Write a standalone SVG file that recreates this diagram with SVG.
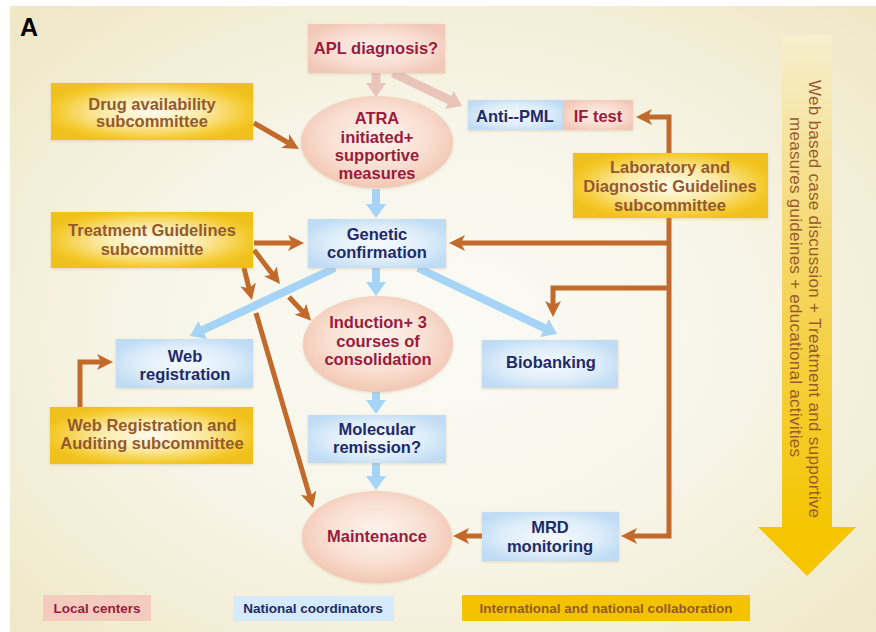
<svg xmlns="http://www.w3.org/2000/svg" width="876" height="632" viewBox="0 0 876 632">
<defs>
<style>
.t{font-family:"Liberation Sans",Arial,Helvetica,sans-serif;font-weight:bold;font-size:16.5px;text-anchor:middle}
.lg{font-family:"Liberation Sans",Arial,Helvetica,sans-serif;font-weight:bold;font-size:13.5px;text-anchor:middle}
.vt{font-family:"Liberation Sans",Arial,Helvetica,sans-serif;font-size:17px;fill:#9a5a2c}
.brn{fill:#94592f}
.nav{fill:#1f2a6a}
.red{fill:#9a1c3c}
.yb{fill:url(#yG);filter:url(#sh)}
.bb{fill:url(#bG);filter:url(#sh)}
.pb{fill:url(#pG);filter:url(#sh)}
.el{fill:url(#eG);filter:url(#sh)}
.cb{stroke:#c26a2c;stroke-width:5;fill:none;marker-end:url(#ab)}
.cl{stroke:#a6d4f6;stroke-width:8;fill:none;marker-end:url(#al)}
.cp{stroke:#e8c5b8;stroke-width:9;fill:none;marker-end:url(#ap)}
</style>
<radialGradient id="bgG" cx="0.5" cy="0.52" r="0.7">
<stop offset="0" stop-color="#fbfbf6"/>
<stop offset="0.5" stop-color="#f7f5e8"/>
<stop offset="1" stop-color="#efe7c6"/>
</radialGradient>
<radialGradient id="yG" cx="0.5" cy="0.5" r="0.56">
<stop offset="0" stop-color="#fffcf0"/>
<stop offset="0.45" stop-color="#fbeaa6"/>
<stop offset="0.85" stop-color="#f4ca2e"/>
<stop offset="1" stop-color="#f0c01c"/>
</radialGradient>
<radialGradient id="bG" cx="0.5" cy="0.5" r="0.58">
<stop offset="0" stop-color="#f5fafe"/>
<stop offset="0.6" stop-color="#deedf9"/>
<stop offset="1" stop-color="#bfdcf4"/>
</radialGradient>
<radialGradient id="pG" cx="0.5" cy="0.5" r="0.58">
<stop offset="0" stop-color="#fcf0ea"/>
<stop offset="0.6" stop-color="#f9ddd1"/>
<stop offset="1" stop-color="#f1c8b8"/>
</radialGradient>
<radialGradient id="eG" cx="0.5" cy="0.45" r="0.55">
<stop offset="0" stop-color="#fdf4ee"/>
<stop offset="0.6" stop-color="#f9dfd2"/>
<stop offset="1" stop-color="#f2c7b4"/>
</radialGradient>
<linearGradient id="vG" x1="0" y1="35" x2="0" y2="527" gradientUnits="userSpaceOnUse">
<stop offset="0" stop-color="#f6efcf"/>
<stop offset="0.45" stop-color="#f5d768"/>
<stop offset="1" stop-color="#f4c500"/>
</linearGradient>
<filter id="sh" x="-10%" y="-15%" width="120%" height="135%">
<feDropShadow dx="0" dy="1" stdDeviation="1.5" flood-color="#b8a070" flood-opacity="0.35"/>
</filter>
<marker id="ab" viewBox="0 0 16 16" markerWidth="16" markerHeight="16" refX="5" refY="8" orient="auto" markerUnits="userSpaceOnUse">
<path d="M0,0 L16,8 L0,16 L4,8 z" fill="#c26a2c"/>
</marker>
<marker id="al" viewBox="0 0 14 20" markerWidth="14" markerHeight="20" refX="2" refY="10" orient="auto" markerUnits="userSpaceOnUse">
<path d="M0,0 L14,10 L0,20 z" fill="#a6d4f6"/>
</marker>
<marker id="ap" viewBox="0 0 14 20" markerWidth="14" markerHeight="20" refX="2" refY="10" orient="auto" markerUnits="userSpaceOnUse">
<path d="M0,0 L14,10 L0,20 z" fill="#e8c5b8"/>
</marker>
</defs>

<rect x="0" y="0" width="876" height="632" fill="#ffffff"/>
<rect x="10" y="6" width="866" height="626" fill="url(#bgG)"/>
<text x="20" y="36" font-family="Liberation Sans,Arial,sans-serif" font-weight="bold" font-size="25" fill="#000">A</text>

<g id="side-arrow">
<rect x="782" y="35" width="50" height="493" fill="url(#vG)"/>
<path d="M758,527 L856,527 L807,576 z" fill="#f4c500"/>
<text class="vt" transform="translate(809,80) rotate(90)" textLength="438" lengthAdjust="spacing">Web based case discussion + Treatment  and supportive</text>
<text class="vt" transform="translate(790,117) rotate(90)" textLength="340" lengthAdjust="spacing">measures guideines + educational activities</text>
</g>

<g id="connectors">
<path class="cp" d="M376,73 V85"/>
<path class="cp" d="M393,73 L451.2,100.8"/>
<path class="cl" d="M376,189 V206"/>
<path class="cl" d="M376,268 V284"/>
<path class="cl" d="M376,392 V402"/>
<path class="cl" d="M376,463 V478"/>
<path class="cl" d="M335,268 L200.9,330.9"/>
<path class="cl" d="M418,268 L546.2,328.9"/>
<path class="cb" d="M254,123 L289.5,143.5"/>
<path class="cb" d="M254,243 H293"/>
<path class="cb" d="M254,250 L273.3,275.3"/>
<path class="cb" d="M289,297 L303.7,312.8"/>
<path class="cb" d="M244,268 L249.3,289.3"/>
<path class="cb" d="M256,313 L310,497.4"/>
<path class="cb" d="M80,407 V362 H102"/>
<path class="cb" d="M669,153 V117 H647"/>
<path class="cb" d="M669,218 V536 H632"/>
<path class="cb" d="M669,243 H460"/>
<path class="cb" d="M669,288 H553 V306"/>
<path class="cb" d="M482,536 H464"/>
</g>

<g id="apl">
<rect class="pb" x="308" y="24" width="137" height="49"/>
<text class="t red" x="376" y="54">APL diagnosis?</text>
</g>
<g id="atra">
<ellipse class="el" cx="377" cy="142" rx="76" ry="46"/>
<text class="t red" x="377" y="124">ATRA</text>
<text class="t red" x="377" y="143">initiated+</text>
<text class="t red" x="377" y="161">supportive</text>
<text class="t red" x="377" y="179">measures</text>
</g>
<g id="antipml">
<rect class="bb" x="468" y="100" width="96" height="30"/>
<rect class="pb" x="564" y="100" width="69" height="30"/>
<text class="t nav" x="515" y="122">Anti--PML</text>
<text class="t red" x="598" y="122">IF test</text>
</g>
<g id="drug">
<rect class="yb" x="51" y="83" width="202" height="57"/>
<text class="t brn" x="152" y="110">Drug availability</text>
<text class="t brn" x="152" y="127">subcommittee</text>
</g>
<g id="lab">
<rect class="yb" x="573" y="153" width="195" height="65"/>
<text class="t brn" x="670" y="173">Laboratory and</text>
<text class="t brn" x="670" y="192">Diagnostic Guidelines</text>
<text class="t brn" x="670" y="211">subcommittee</text>
</g>
<g id="treatment">
<rect class="yb" x="51" y="212" width="202" height="56"/>
<text class="t brn" x="152" y="236">Treatment Guidelines</text>
<text class="t brn" x="152" y="255">subcommitte</text>
</g>
<g id="genetic">
<rect class="bb" x="308" y="219" width="138" height="49"/>
<text class="t nav" x="377" y="240">Genetic</text>
<text class="t nav" x="377" y="258">confirmation</text>
</g>
<g id="webreg">
<rect class="bb" x="116" y="339" width="137" height="49"/>
<text class="t nav" x="185" y="362">Web</text>
<text class="t nav" x="185" y="380">registration</text>
</g>
<g id="induction">
<ellipse class="el" cx="378" cy="344" rx="75" ry="48"/>
<text class="t red" x="378" y="328">Induction+ 3</text>
<text class="t red" x="378" y="347">courses of</text>
<text class="t red" x="378" y="365">consolidation</text>
</g>
<g id="biobanking">
<rect class="bb" x="482" y="340" width="136" height="48"/>
<text class="t nav" x="551" y="368">Biobanking</text>
</g>
<g id="webaudit">
<rect class="yb" x="50" y="407" width="203" height="57"/>
<text class="t brn" x="152" y="431">Web Registration and</text>
<text class="t brn" x="152" y="449">Auditing subcommittee</text>
</g>
<g id="molecular">
<rect class="bb" x="308" y="415" width="138" height="48"/>
<text class="t nav" x="377" y="435">Molecular</text>
<text class="t nav" x="377" y="453">remission?</text>
</g>
<g id="maintenance">
<ellipse class="el" cx="377" cy="537" rx="75" ry="46"/>
<text class="t red" x="377" y="542">Maintenance</text>
</g>
<g id="mrd">
<rect class="bb" x="482" y="512" width="137" height="49"/>
<text class="t nav" x="550" y="533">MRD</text>
<text class="t nav" x="550" y="552">monitoring</text>
</g>

<g id="legend">
<rect x="43" y="595" width="108" height="26" fill="#f4cbbf"/>
<text class="lg red" x="97" y="613">Local centers</text>
<rect x="233" y="596" width="161" height="25" fill="#d5eafa"/>
<text class="lg nav" x="313" y="613">National coordinators</text>
<rect x="462" y="595" width="288" height="26" fill="#f3c300"/>
<text class="lg brn" x="606" y="613">International and national collaboration</text>
</g>
</svg>
